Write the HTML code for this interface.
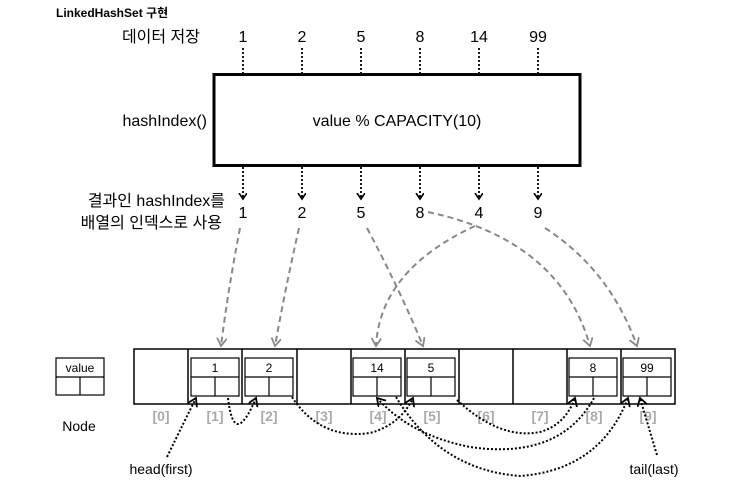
<!DOCTYPE html>
<html><head><meta charset="utf-8"><style>
html,body{margin:0;padding:0;background:#fff;}
svg{display:block;font-family:"Liberation Sans","Noto Sans CJK KR",sans-serif;}
</style></head><body>
<svg width="741" height="486" viewBox="0 0 741 486" xmlns="http://www.w3.org/2000/svg">
<defs>
<marker id="ab" markerWidth="8" markerHeight="10" refX="6" refY="4" orient="auto" markerUnits="userSpaceOnUse"><path d="M0,0 L6,4 L0,8" fill="none" stroke="#000" stroke-width="1.6"/></marker>
<marker id="ag" markerWidth="10" markerHeight="12" refX="8" refY="5" orient="auto" markerUnits="userSpaceOnUse"><path d="M0,0 L8,5 L0,10" fill="none" stroke="#888" stroke-width="1.8"/></marker>
<marker id="ak" markerWidth="10" markerHeight="12" refX="8" refY="5" orient="auto" markerUnits="userSpaceOnUse"><path d="M0,0 L8,5 L0,10" fill="none" stroke="#000" stroke-width="1.8"/></marker>
</defs>
<text x="56" y="17" font-size="12" font-weight="bold">LinkedHashSet 구현</text>
<text x="200" y="42" font-size="16" text-anchor="end">데이터 저장</text>
<g font-size="16" text-anchor="middle">
<text x="243" y="42">1</text><text x="302" y="42">2</text><text x="361" y="42">5</text><text x="420" y="42">8</text><text x="479" y="42">14</text><text x="538" y="42">99</text>
<text x="243" y="218">1</text><text x="302" y="218">2</text><text x="361" y="218">5</text><text x="420" y="218">8</text><text x="479" y="218">4</text><text x="538" y="218">9</text>
</g>
<g stroke="#000" stroke-width="1.8" stroke-dasharray="2,2">
<line x1="243" y1="48" x2="243" y2="74"/><line x1="302" y1="48" x2="302" y2="74"/><line x1="361" y1="48" x2="361" y2="74"/><line x1="420" y1="48" x2="420" y2="74"/><line x1="479" y1="48" x2="479" y2="74"/><line x1="538" y1="48" x2="538" y2="74"/>
</g>
<g stroke="#000" stroke-width="1.8" stroke-dasharray="2,2" marker-end="url(#ab)">
<line x1="243" y1="167" x2="243" y2="199"/><line x1="302" y1="167" x2="302" y2="199"/><line x1="361" y1="167" x2="361" y2="199"/><line x1="420" y1="167" x2="420" y2="199"/><line x1="479" y1="167" x2="479" y2="199"/><line x1="538" y1="167" x2="538" y2="199"/>
</g>
<rect x="214" y="74.5" width="366" height="91" fill="none" stroke="#000" stroke-width="3"/>
<text x="207" y="126" font-size="16" text-anchor="end">hashIndex()</text>
<text x="397" y="126" font-size="16" text-anchor="middle">value % CAPACITY(10)</text>
<text x="225" y="206" font-size="16" text-anchor="end">결과인 hashIndex를</text>
<text x="222" y="228" font-size="16" text-anchor="end">배열의 인덱스로 사용</text>
<g fill="none" stroke="#888" stroke-width="2" stroke-dasharray="6,4" marker-end="url(#ag)">
<path d="M240,228 Q228,290 221,346"/>
<path d="M299,228 Q285,290 275,346"/>
<path d="M367,228 Q400,290 423,346"/>
<path d="M428,212 Q560,240 590,346"/>
<path d="M475,226 Q380,270 376,346"/>
<path d="M545,228 Q610,270 637,346"/>
</g>
<rect x="134" y="349" width="541" height="55" fill="none" stroke="#000" stroke-width="1.5"/>
<g stroke="#000" stroke-width="1.5">
<line x1="188" y1="349" x2="188" y2="404"/><line x1="242" y1="349" x2="242" y2="404"/><line x1="297" y1="349" x2="297" y2="404"/><line x1="351" y1="349" x2="351" y2="404"/><line x1="405" y1="349" x2="405" y2="404"/><line x1="459" y1="349" x2="459" y2="404"/><line x1="513" y1="349" x2="513" y2="404"/><line x1="567" y1="349" x2="567" y2="404"/><line x1="621" y1="349" x2="621" y2="404"/>
</g>
<g font-size="12" text-anchor="middle" fill="#000">
<g transform="translate(191,358)"><rect width="48" height="38" fill="none" stroke="#000" stroke-width="1.2"/><line x1="0" y1="19" x2="48" y2="19" stroke="#000" stroke-width="1.2"/><line x1="24" y1="19" x2="24" y2="38" stroke="#000" stroke-width="1.2"/><text x="24" y="14">1</text></g>
<g transform="translate(245,358)"><rect width="48" height="38" fill="none" stroke="#000" stroke-width="1.2"/><line x1="0" y1="19" x2="48" y2="19" stroke="#000" stroke-width="1.2"/><line x1="24" y1="19" x2="24" y2="38" stroke="#000" stroke-width="1.2"/><text x="24" y="14">2</text></g>
<g transform="translate(353,358)"><rect width="48" height="38" fill="none" stroke="#000" stroke-width="1.2"/><line x1="0" y1="19" x2="48" y2="19" stroke="#000" stroke-width="1.2"/><line x1="24" y1="19" x2="24" y2="38" stroke="#000" stroke-width="1.2"/><text x="24" y="14">14</text></g>
<g transform="translate(407,358)"><rect width="48" height="38" fill="none" stroke="#000" stroke-width="1.2"/><line x1="0" y1="19" x2="48" y2="19" stroke="#000" stroke-width="1.2"/><line x1="24" y1="19" x2="24" y2="38" stroke="#000" stroke-width="1.2"/><text x="24" y="14">5</text></g>
<g transform="translate(569,358)"><rect width="48" height="38" fill="none" stroke="#000" stroke-width="1.2"/><line x1="0" y1="19" x2="48" y2="19" stroke="#000" stroke-width="1.2"/><line x1="24" y1="19" x2="24" y2="38" stroke="#000" stroke-width="1.2"/><text x="24" y="14">8</text></g>
<g transform="translate(623,358)"><rect width="48" height="38" fill="none" stroke="#000" stroke-width="1.2"/><line x1="0" y1="19" x2="48" y2="19" stroke="#000" stroke-width="1.2"/><line x1="24" y1="19" x2="24" y2="38" stroke="#000" stroke-width="1.2"/><text x="24" y="14">99</text></g>
<g transform="translate(56,358)"><rect width="48" height="37" fill="none" stroke="#000" stroke-width="1.2"/><line x1="0" y1="19" x2="48" y2="19" stroke="#000" stroke-width="1.2"/><line x1="24" y1="19" x2="24" y2="37" stroke="#000" stroke-width="1.2"/><text x="24" y="14">value</text></g>
</g>
<g font-size="14" text-anchor="middle" fill="#aaa" font-weight="bold">
<text x="161" y="421">[0]</text><text x="215" y="421">[1]</text><text x="269" y="421">[2]</text><text x="324" y="421">[3]</text><text x="378" y="421">[4]</text><text x="432" y="421">[5]</text><text x="486" y="421">[6]</text><text x="540" y="421">[7]</text><text x="594" y="421">[8]</text><text x="648" y="421">[9]</text>
</g>
<text x="79" y="431" font-size="14" text-anchor="middle">Node</text>
<text x="161" y="474" font-size="14" text-anchor="middle">head(first)</text>
<text x="654" y="474" font-size="14" text-anchor="middle">tail(last)</text>
<g fill="none" stroke="#000" stroke-width="2" stroke-dasharray="2,2" marker-end="url(#ak)">
<path d="M167,457 Q185,420 196,398"/>
<path d="M228,398 Q234,450 256,398"/>
<path d="M292,397 Q320,440 370,433 Q400,425 413,398"/>
<path d="M457,400 Q500,440 540,432 Q565,425 575,398"/>
<path d="M594,398 Q560,460 470,447 Q410,435 377,398"/>
<path d="M396,397 Q440,470 520,476 Q600,470 628,398"/>
<path d="M657,455 Q648,425 640,398"/>
</g>
</svg>
</body></html>
